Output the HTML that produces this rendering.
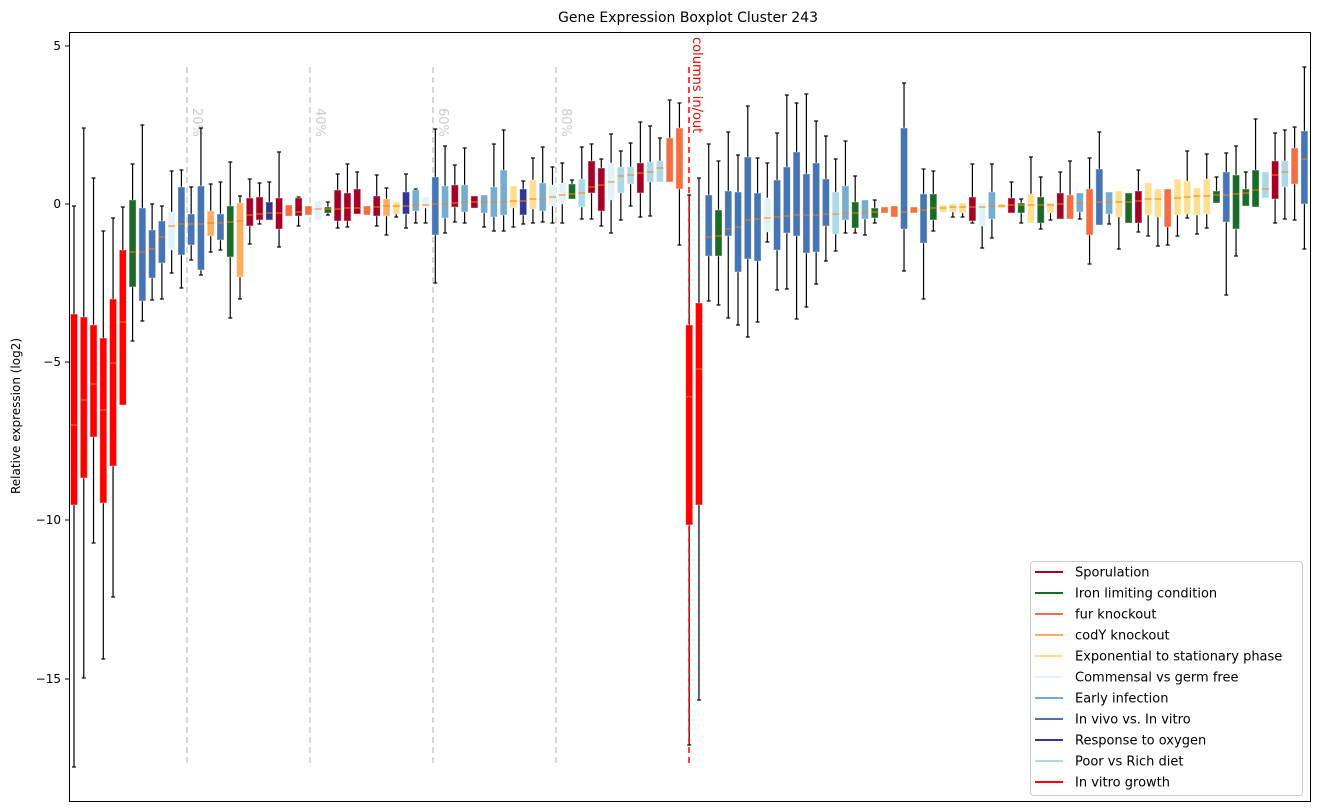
<!DOCTYPE html>
<html><head><meta charset="utf-8"><style>
body{margin:0;background:#fff;}
svg{display:block;font-family:"DejaVu Sans","Liberation Sans",sans-serif;}
</style></head><body>
<svg id="s" width="1318" height="812" xmlns="http://www.w3.org/2000/svg">
<rect x="0" y="0" width="1318" height="812" fill="#fff"/>
<text x="688" y="22" font-size="14" text-anchor="middle">Gene Expression Boxplot Cluster 243</text>
<text transform="translate(20,416) rotate(-90)" font-size="12" text-anchor="middle">Relative expression (log2)</text>
<g stroke="#ccc" stroke-width="1.5" stroke-dasharray="6,4">
<line x1="187" y1="67" x2="187" y2="767"/><line x1="310" y1="67" x2="310" y2="767"/>
<line x1="433" y1="67" x2="433" y2="767"/><line x1="556" y1="67" x2="556" y2="767"/>
</g>
<g fill="#ccc" font-size="13">
<text transform="translate(193,108) rotate(90)">20%</text>
<text transform="translate(316,108) rotate(90)">40%</text>
<text transform="translate(439,108) rotate(90)">60%</text>
<text transform="translate(562,108) rotate(90)">80%</text>
</g>
<g id="boxes"></g>
<line x1="689" y1="67" x2="689" y2="767" stroke="#f00" stroke-width="1.5" stroke-dasharray="6,4"/>
<text transform="translate(693,37) rotate(90)" font-size="13" fill="#f00">columns in/out</text>
<rect x="69.5" y="32.5" width="1241" height="769" fill="none" stroke="#000" stroke-width="1"/>
<g font-size="12" text-anchor="end" stroke="none">
<line x1="65" y1="46" x2="69" y2="46" stroke="#000"/><text x="61" y="50">5</text>
<line x1="65" y1="204" x2="69" y2="204" stroke="#000"/><text x="61" y="208">0</text>
<line x1="65" y1="362" x2="69" y2="362" stroke="#000"/><text x="61" y="366">−5</text>
<line x1="65" y1="520" x2="69" y2="520" stroke="#000"/><text x="61" y="524">−10</text>
<line x1="65" y1="679" x2="69" y2="679" stroke="#000"/><text x="61" y="683">−15</text>
</g>
<g id="legend">
<rect x="1030.5" y="561.5" width="272" height="234" rx="3" fill="#fff" fill-opacity="0.85" stroke="#ccc"/>
</g>
</svg>
<script>
var C={s:"#a50026",g:"#1a6b27",f:"#f46d43",c:"#fdae61",e:"#fee090",m:"#e0f3f8",i:"#74add1",v:"#4575b4",o:"#313695",p:"#abd9e9",r:"#ff0000"};
var D=[
[206,314,425,505,767,"r"],[128,317,400,478,678,"r"],[178,325,384,437,543,"r"],[231,338,410,503,659,"r"],[218,299,363,466,597,"r"],[207,250,322,405,405,"r"],
[164,200,252,287,341,"g"],[125,208,252,301,321,"v"],[204,230,249,278,300,"v"],[206,221,237,263,299,"v"],[171,212,226,250,273,"m"],[170,187,224,255,288,"v"],
[187,214,224,245,260,"v"],[128,186,224,270,275,"v"],[184,211,223,236,252,"c"],[182,214,223,240,250,"v"],[162,206,222,257,318,"g"],[196,203,221,277,299,"c"],
[179,198,215,226,244,"s"],[183,197,214,220,224,"s"],[182,202,213,220,220,"o"],[152,198,213,229,247,"s"],[205,205,212,216,216,"f"],[197,198,212,216,226,"s"],
[206,206,210,215,215,"f"],[201,201,209,220,220,"m"],[202,207,209,213,215,"g"],[174,190,209,221,228,"s"],[164,193,208,221,227,"s"],[172,189,208,214,214,"s"],
[206,206,210,215,215,"f"],[175,196,207,216,226,"s"],[188,199,206,216,235,"c"],[202,202,206,214,217,"e"],[174,192,206,214,228,"o"],[189,190,205,211,223,"i"],
[197,197,205,208,223,"m"],[129,177,204,235,283,"v"],[146,186,204,218,233,"i"],[165,185,203,207,222,"s"],[148,185,202,212,223,"i"],[196,196,202,208,208,"s"],
[195,195,202,213,227,"i"],[144,187,202,217,231,"i"],[130,170,202,215,231,"i"],[186,186,201,208,227,"e"],[181,189,201,215,224,"o"],[158,180,199,209,223,"e"],
[147,183,199,211,222,"i"],[167,185,197,206,223,"m"],[163,183,195,204,223,"m"],[180,184,194,199,199,"g"],[147,179,193,207,219,"p"],[144,161,187,193,219,"s"],
[159,168,185,211,226,"s"],[134,163,182,200,233,"m"],[151,167,176,193,220,"p"],[143,167,175,184,206,"p"],[122,163,173,193,217,"s"],[126,162,172,182,216,"p"],
[138,161,168,182,182,"p"],[100,138,166,182,182,"f"],[103,128,148,189,245,"f"],
[195,325,397,525,745,"r"],[178,303,369,505,700,"r"],
[144,195,237,256,301,"v"],[161,210,236,256,305,"g"],[132,191,229,236,318,"v"],[155,192,227,272,325,"v"],[106,157,220,259,337,"v"],[158,193,219,261,322,"v"],
[163,198,218,232,242,"m"],[133,180,217,250,290,"v"],[95,167,216,233,289,"v"],[103,152,215,236,319,"v"],[94,174,215,253,307,"v"],[121,163,215,252,284,"v"],
[136,179,214,226,261,"v"],[159,192,214,234,251,"p"],[141,186,213,220,233,"i"],[176,202,213,228,233,"g"],[200,200,212,219,235,"i"],[200,208,212,218,223,"g"],
[207,207,210,213,213,"f"],[206,206,212,217,217,"f"],[83,128,212,229,271,"v"],[207,207,210,213,213,"f"],[169,194,210,243,299,"v"],[171,194,208,220,231,"g"],
[205,205,208,212,212,"e"],[204,204,207,212,217,"e"],[203,203,207,213,217,"e"],[164,197,207,221,223,"s"],[203,203,207,226,248,"m"],[164,192,206,219,238,"i"],
[204,204,206,208,208,"e"],[182,198,205,213,213,"s"],[199,203,205,213,223,"g"],[157,194,205,223,223,"e"],[177,197,205,223,229,"g"],[203,203,205,213,220,"e"],
[172,193,204,219,219,"s"],[161,195,204,219,219,"f"],[193,193,203,212,219,"i"],[158,189,203,235,264,"f"],[132,169,202,225,225,"v"],[192,192,202,214,224,"i"],
[191,191,202,217,249,"e"],[193,193,202,223,223,"g"],[170,191,201,223,232,"s"],[183,183,199,215,236,"e"],[189,189,199,217,246,"e"],[189,189,198,227,245,"f"],
[179,179,198,215,236,"e"],[151,181,197,214,218,"e"],[188,188,196,215,234,"e"],[154,179,196,214,228,"e"],[177,191,195,203,203,"g"],[153,172,195,222,295,"v"],
[146,175,194,229,256,"g"],[172,189,193,206,206,"g"],[119,170,190,207,207,"g"],[172,172,189,198,198,"p"],[133,161,175,199,223,"s"],[130,161,172,187,219,"p"],
[127,148,163,184,220,"f"],[67,131,159,204,249,"v"]
];
var g=document.getElementById("boxes"),h="";
D.forEach(function(d,k){
 var x=74+k*9.765, wt=d[0],bt=d[1],md=d[2],bb=d[3],wl=d[4],c=C[d[5]];
 if(wt<bt-0.5){h+='<line x1="'+x+'" y1="'+wt+'" x2="'+x+'" y2="'+bt+'" stroke="#000" stroke-width="1.2"/><line x1="'+(x-2)+'" y1="'+wt+'" x2="'+(x+2)+'" y2="'+wt+'" stroke="#000" stroke-width="1.2"/>';}
 if(wl>bb+0.5){h+='<line x1="'+x+'" y1="'+bb+'" x2="'+x+'" y2="'+wl+'" stroke="#000" stroke-width="1.2"/><line x1="'+(x-2)+'" y1="'+wl+'" x2="'+(x+2)+'" y2="'+wl+'" stroke="#000" stroke-width="1.2"/>';}
 h+='<rect x="'+(x-3.5)+'" y="'+bt+'" width="7" height="'+Math.max(bb-bt,2)+'" fill="'+c+'" stroke="#fff" stroke-opacity="0.5" stroke-width="0.8"/>';
 h+='<line x1="'+(x-3.5)+'" y1="'+md+'" x2="'+(x+3.5)+'" y2="'+md+'" stroke="#ff7f0e" stroke-width="1"/>';
});
g.innerHTML=h;
var L=[["Sporulation","s"],["Iron limiting condition","g"],["fur knockout","f"],["codY knockout","c"],["Exponential to stationary phase","e"],["Commensal vs germ free","m"],["Early infection","i"],["In vivo vs. In vitro","v"],["Response to oxygen","o"],["Poor vs Rich diet","p"],["In vitro growth","r"]];
var lg=document.getElementById("legend"),lh="";
L.forEach(function(l,k){var y=572+k*21;
 lh+='<line x1="1035" y1="'+y+'" x2="1063" y2="'+y+'" stroke="'+C[l[1]]+'" stroke-width="2"/><text x="1075" y="'+(y+4.5)+'" font-size="13">'+l[0]+'</text>';});
lg.innerHTML+=lh;
</script>
</body></html>
